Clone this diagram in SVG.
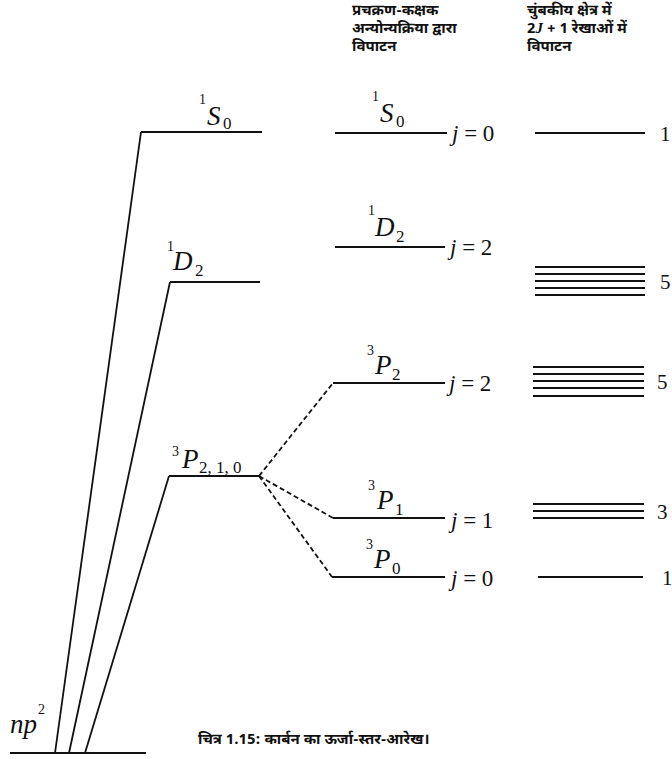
<svg xmlns="http://www.w3.org/2000/svg" width="672" height="759" viewBox="0 0 672 759">
<style>
.lv{stroke:#111;stroke-width:2;fill:none}
.ln{stroke:#111;stroke-width:1.8;fill:none}
.ds{stroke:#111;stroke-width:1.8;fill:none;stroke-dasharray:5 3}
.sym{font-family:"Liberation Serif",serif;font-style:italic;font-size:27px;fill:#111}
.sup{font-family:"Liberation Serif",serif;font-size:14px;fill:#111}
.sub{font-family:"Liberation Serif",serif;font-size:17px;fill:#111}
.j{font-family:"Liberation Serif",serif;font-size:23px;fill:#111}
.jl{font-style:italic}
.num{font-family:"Liberation Serif",serif;font-size:21px;fill:#111}
.hd{font-family:"Noto Sans Devanagari","Noto Sans","Lohit Devanagari",sans-serif;font-size:15px;font-weight:bold;fill:#111}
.cap{font-family:"Noto Sans Devanagari","Noto Sans","Lohit Devanagari",sans-serif;font-size:15px;font-weight:bold;fill:#111}
</style>
<rect width="672" height="759" fill="#fff"/>
<g id="connectors">
<polyline class="ln" points="55,753 141,132"/>
<polyline class="ln" points="69,753 170,282"/>
<polyline class="ln" points="85,753 169,476"/>
<line class="ds" x1="259" y1="476" x2="333" y2="383"/>
<line class="ds" x1="259" y1="476" x2="333" y2="518"/>
<line class="ds" x1="259" y1="476" x2="332" y2="577"/>
</g>
<g id="ground">
<line class="lv" x1="10" y1="753" x2="146" y2="753"/>
<text class="sym" x="10" y="733" font-size="20">np</text>
<text class="sup" x="38" y="714">2</text>
</g>
<g id="left-1S0">
<line class="lv" x1="141" y1="132" x2="262" y2="132"/>
<text class="sup" x="199" y="104">1</text>
<text class="sym" x="207" y="125">S</text>
<text class="sub" x="223" y="129">0</text>
</g>
<g id="left-1D2">
<line class="lv" x1="170" y1="282" x2="260" y2="282"/>
<text class="sup" x="167" y="251">1</text>
<text class="sym" x="173" y="270">D</text>
<text class="sub" x="195" y="276">2</text>
</g>
<g id="left-3P">
<line class="lv" x1="169" y1="476" x2="259" y2="476"/>
<text class="sup" x="172" y="456">3</text>
<text class="sym" x="182" y="468">P</text>
<text class="sub" x="199" y="473">2, 1, 0</text>
</g>
<g id="mid-1S0">
<line class="lv" x1="335" y1="133" x2="447" y2="133"/>
<text class="sup" x="372" y="101">1</text>
<text class="sym" x="380" y="122">S</text>
<text class="sub" x="396" y="127">0</text>
<text class="j" x="452" y="141"><tspan class="jl">j</tspan> = 0</text>
</g>
<g id="mid-1D2">
<line class="lv" x1="335" y1="247" x2="445" y2="247"/>
<text class="sup" x="368" y="215">1</text>
<text class="sym" x="375" y="236">D</text>
<text class="sub" x="396" y="242">2</text>
<text class="j" x="450" y="255"><tspan class="jl">j</tspan> = 2</text>
</g>
<g id="mid-3P2">
<line class="lv" x1="333" y1="383" x2="445" y2="383"/>
<text class="sup" x="367" y="355">3</text>
<text class="sym" x="375" y="374">P</text>
<text class="sub" x="392" y="380">2</text>
<text class="j" x="449" y="391"><tspan class="jl">j</tspan> = 2</text>
</g>
<g id="mid-3P1">
<line class="lv" x1="333" y1="518" x2="445" y2="518"/>
<text class="sup" x="368" y="490">3</text>
<text class="sym" x="377" y="509">P</text>
<text class="sub" x="395" y="515">1</text>
<text class="j" x="451" y="528"><tspan class="jl">j</tspan> = 1</text>
</g>
<g id="mid-3P0">
<line class="lv" x1="332" y1="577" x2="445" y2="577"/>
<text class="sup" x="366" y="549">3</text>
<text class="sym" x="374" y="568">P</text>
<text class="sub" x="392" y="574">0</text>
<text class="j" x="451" y="586"><tspan class="jl">j</tspan> = 0</text>
</g>
<g id="right-1S0">
<line class="lv" x1="535" y1="133" x2="645" y2="133"/>
<text class="num" x="660" y="141">1</text>
</g>
<g id="right-1D2">
<line class="lv" x1="535" y1="267" x2="645" y2="267"/>
<line class="lv" x1="535" y1="274" x2="645" y2="274"/>
<line class="lv" x1="535" y1="281" x2="645" y2="281"/>
<line class="lv" x1="535" y1="288" x2="645" y2="288"/>
<line class="lv" x1="535" y1="295" x2="645" y2="295"/>
<text class="num" x="660" y="289">5</text>
</g>
<g id="right-3P2">
<line class="lv" x1="533" y1="367" x2="644" y2="367"/>
<line class="lv" x1="533" y1="374" x2="644" y2="374"/>
<line class="lv" x1="533" y1="381" x2="644" y2="381"/>
<line class="lv" x1="533" y1="388" x2="644" y2="388"/>
<line class="lv" x1="533" y1="396" x2="644" y2="396"/>
<text class="num" x="657" y="389">5</text>
</g>
<g id="right-3P1">
<line class="lv" x1="533" y1="504" x2="644" y2="504"/>
<line class="lv" x1="533" y1="511" x2="644" y2="511"/>
<line class="lv" x1="533" y1="518" x2="644" y2="518"/>
<text class="num" x="657" y="519">3</text>
</g>
<g id="right-3P0">
<line class="lv" x1="538" y1="577" x2="643" y2="577"/>
<text class="num" x="662" y="585">1</text>
</g>
<g id="header-mid">
<text class="hd" x="352" y="15">प्रचक्रण-कक्षक</text>
<text class="hd" x="352" y="33">अन्योन्यक्रिया द्वारा</text>
<text class="hd" x="352" y="51">विपाटन</text>
</g>
<g id="header-right">
<text class="hd" x="527" y="15">चुंबकीय क्षेत्र में</text>
<text class="hd" x="527" y="33">2<tspan font-family="Liberation Serif" font-style="italic">J</tspan> + 1 रेखाओं में</text>
<text class="hd" x="527" y="51">विपाटन</text>
</g>
<g id="caption">
<text class="cap" x="198" y="744">चित्र 1.15: कार्बन का ऊर्जा-स्तर-आरेख।</text>
</g>
</svg>
